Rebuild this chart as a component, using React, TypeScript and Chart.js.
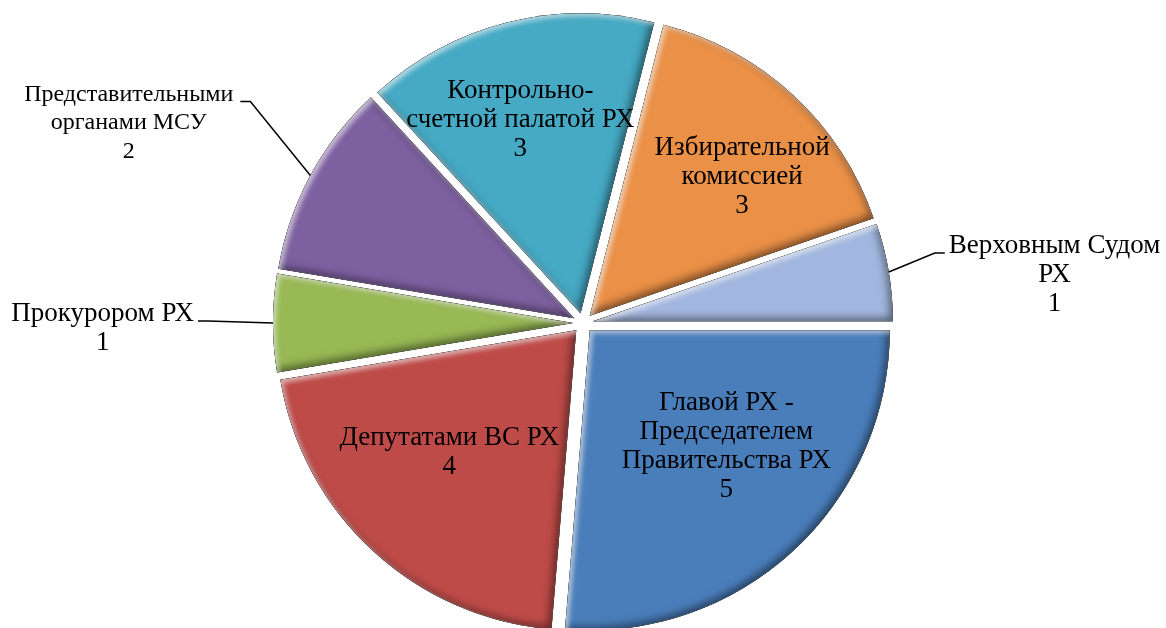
import React, { useEffect, useRef } from 'react';
import { Chart, registerables } from 'chart.js';

Chart.register(...registerables);

// ---- data ----
const categories: string[][] = [
  ['Главой РХ -', 'Председателем', 'Правительства РХ'],
  ['Депутатами ВС РХ'],
  ['Прокурором РХ'],
  ['Представительными', 'органами МСУ'],
  ['Контрольно-', 'счетной палатой РХ'],
  ['Избирательной', 'комиссией'],
  ['Верховным Судом', 'РХ'],
];
const values = [5, 4, 1, 2, 3, 3, 1];
const colors = ['#4A7EBB', '#BE4B48', '#98B954', '#7D60A0', '#46AAC5', '#EA9047', '#A2B7DF'];
const labelFontSizes = [27, 27, 27, 24, 27, 27, 27];

// label placement (inside: angle shift in degrees + radius fraction; outside: leader elbow)
const insidePlacement: ({ angle: number; frac: number } | null)[] = [
  { angle: -6.7, frac: 0.63 },
  { angle: 3.3, frac: 0.62 },
  null,
  null,
  { angle: -2.9, frac: 0.71 },
  { angle: 4.8, frac: 0.72 },
  null,
];
const outsidePlacement: ({ dx: number; dy: number; tail: number } | null)[] = [
  null,
  null,
  { dx: -65, dy: -2, tail: -10 },
  { dx: -60, dy: -74, tail: -10 },
  null,
  null,
  { dx: 46, dy: -19, tail: 10 },
];

const EXPLODE = 10;
const FONT_FAMILY = '"Liberation Serif", "Times New Roman", serif';
const LINE_H = 29;

function bevel(ctx: CanvasRenderingContext2D, arc: any) {
  const { x, y, startAngle, endAngle, outerRadius } = arc;
  const path = new Path2D();
  path.moveTo(x, y);
  path.arc(x, y, outerRadius, startAngle, endAngle);
  path.closePath();
  const ring = new Path2D();
  ring.rect(x - 3000, y - 3000, 6000, 6000);
  ring.addPath(path);
  ctx.save();
  ctx.clip(path);
  ctx.fillStyle = '#000';
  ctx.shadowColor = 'rgba(0,0,0,0.5)';
  ctx.shadowBlur = 8;
  ctx.shadowOffsetX = -3;
  ctx.shadowOffsetY = -3;
  ctx.fill(ring, 'evenodd');
  ctx.shadowColor = 'rgba(255,255,255,0.6)';
  ctx.shadowBlur = 5;
  ctx.shadowOffsetX = 3;
  ctx.shadowOffsetY = 3;
  ctx.fill(ring, 'evenodd');
  ctx.restore();
}

const explodePlugin = {
  id: 'explodeBevel',
  beforeDatasetDraw(chart: any, args: any) {
    const ctx: CanvasRenderingContext2D = chart.ctx;
    args.meta.data.forEach((arc: any) => {
      const mid = (arc.startAngle + arc.endAngle) / 2;
      ctx.save();
      ctx.translate(Math.cos(mid) * EXPLODE, Math.sin(mid) * EXPLODE);
      arc.draw(ctx);
      bevel(ctx, arc);
      ctx.restore();
    });
    return false;
  },
};

function drawLines(ctx: CanvasRenderingContext2D, lines: string[], cx: number, firstY: number, lh: number) {
  lines.forEach((t, i) => ctx.fillText(t, cx, firstY + i * lh));
}

const labelPlugin = {
  id: 'sliceLabels',
  afterDraw(chart: any) {
    const ctx: CanvasRenderingContext2D = chart.ctx;
    const meta = chart.getDatasetMeta(0);
    ctx.save();
    ctx.fillStyle = '#000';
    ctx.textAlign = 'center';
    ctx.textBaseline = 'middle';
    ctx.strokeStyle = '#000';
    ctx.lineWidth = 1.5;
    meta.data.forEach((arc: any, i: number) => {
      ctx.font = `${labelFontSizes[i]}px ${FONT_FAMILY}`;
      const lh = labelFontSizes[i] < 27 ? 28.5 : LINE_H;
      const mid = (arc.startAngle + arc.endAngle) / 2;
      const lines = [...categories[i], String(values[i])];
      const ins = insidePlacement[i];
      const out = outsidePlacement[i];
      if (ins) {
        const a = mid + (ins.angle * Math.PI) / 180;
        const r = arc.outerRadius * ins.frac;
        const cx = arc.x + Math.cos(a) * r;
        const cy = arc.y + Math.sin(a) * r;
        const top = cy - ((lines.length - 1) * lh) / 2;
        drawLines(ctx, lines, cx, top, lh);
      } else if (out) {
        const ex = arc.x + Math.cos(mid) * (arc.outerRadius + EXPLODE);
        const ey = arc.y + Math.sin(mid) * (arc.outerRadius + EXPLODE);
        const bx = ex + out.dx;
        const by = ey + out.dy;
        const tx = bx + out.tail;
        ctx.beginPath();
        ctx.moveTo(ex, ey);
        ctx.lineTo(bx, by);
        ctx.lineTo(tx, by);
        ctx.stroke();
        const w = Math.max(...lines.map((l) => ctx.measureText(l).width));
        const gap = labelFontSizes[i] < 27 ? 7 : 4;
        const cx = out.tail < 0 ? tx - gap - w / 2 : tx + gap + w / 2;
        drawLines(ctx, lines, cx, by - 7, lh);
      }
    });
    ctx.restore();
  },
};

export default function App() {
  const ref = useRef<HTMLCanvasElement | null>(null);
  useEffect(() => {
    if (!ref.current) return;
    const chart = new Chart(ref.current, {
      type: 'pie',
      data: {
        labels: categories.map((c) => c.join(' ')),
        datasets: [
          {
            data: values,
            backgroundColor: colors,
            borderWidth: 0,
          },
        ],
      },
      options: {
        animation: false,
        responsive: true,
        maintainAspectRatio: false,
        rotation: 90,
        radius: 300,
        layout: { padding: { top: 18 } },
        plugins: { legend: { display: false }, tooltip: { enabled: false } },
        events: [],
      },
      plugins: [explodePlugin, labelPlugin],
    });
    return () => chart.destroy();
  }, []);
  return (
    <div style={{ position: 'absolute', left: 0, top: 0, width: 1166, height: 628, background: '#fff' }}>
      <canvas ref={ref} />
    </div>
  );
}
